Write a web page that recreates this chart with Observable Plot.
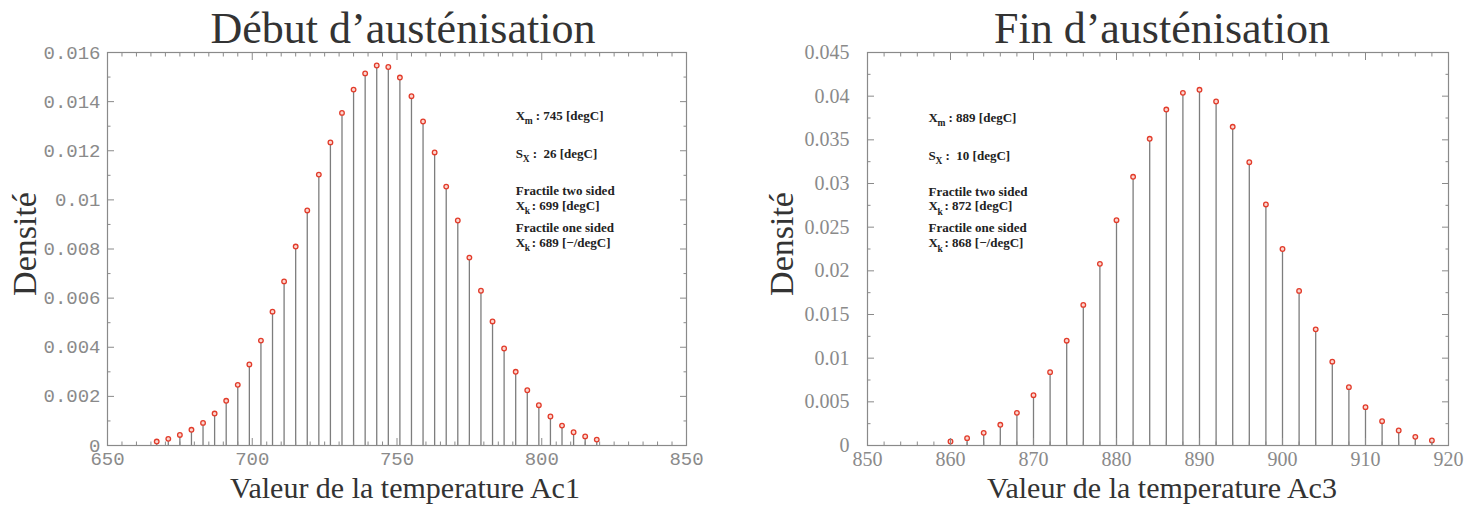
<!DOCTYPE html>
<html>
<head>
<meta charset="utf-8">
<script src="https://cdn.jsdelivr.net/npm/d3@7"></script>
<script src="https://cdn.jsdelivr.net/npm/@observablehq/plot@0.6"></script>
<style>
  html, body { margin: 0; padding: 0; background: #fff; }
  #wrap { display: flex; width: 1476px; height: 506px; overflow: hidden; }
</style>
</head>
<body>
<div id="wrap"></div>
<script>
// ---- Data ----
const ac1Temp = [667,671,675,679,683,687,691,695,699,703,707,711,715,719,723,727,731,735,739,743,747,751,755,759,763,767,771,775,779,783,787,791,795,799,803,807,811,815,819];
const ac1Density = [0.00016,0.00027,0.00043,0.00064,0.00092,0.0013,0.00182,0.00247,0.0033,0.00427,0.00545,0.00668,0.0081,0.00957,0.01103,0.01234,0.01354,0.01449,0.01515,0.01547,0.01541,0.01498,0.01422,0.01319,0.01193,0.01054,0.00916,0.00765,0.0063,0.00505,0.00395,0.003,0.00225,0.00164,0.00118,0.00081,0.00054,0.00037,0.00024];

const ac3Temp = [860,862,864,866,868,870,872,874,876,878,880,882,884,886,888,890,892,894,896,898,900,902,904,906,908,910,912,914,916,918];
const ac3Density = [0.00046,0.00084,0.00145,0.00237,0.00374,0.00576,0.0084,0.012,0.0161,0.0208,0.0258,0.03077,0.03512,0.03847,0.04038,0.04073,0.03939,0.03649,0.03244,0.0276,0.0225,0.0177,0.0133,0.0096,0.00668,0.00439,0.00278,0.00172,0.00099,0.00057];

// ---- Tick values ----
const ac1XTicks = [650,700,750,800,850];
const ac1XMinor = [655,660,665,670,675,680,685,690,695,705,710,715,720,725,730,735,740,745,755,760,765,770,775,780,785,790,795,805,810,815,820,825,830,835,840,845];
const ac1YTicks = [0,0.002,0.004,0.006,0.008,0.01,0.012,0.014,0.016];
const ac1YMinor = [0.001,0.003,0.005,0.007,0.009,0.011,0.013,0.015];

const ac3XTicks = [850,860,870,880,890,900,910,920];
const ac3XMinor = [852,854,856,858,862,864,866,868,872,874,876,878,882,884,886,888,892,894,896,898,902,904,906,908,912,914,916,918];
const ac3YTicks = [0,0.005,0.01,0.015,0.02,0.025,0.03,0.035,0.04,0.045];
const ac3YMinor = [0.0025,0.0075,0.0125,0.0175,0.0225,0.0275,0.0325,0.0375,0.0425];

// ---- Texts ----
const titles = ["Début d’austénisation", "Fin d’austénisation"];
const xLabels = ["Valeur de la temperature Ac1", "Valeur de la temperature Ac3"];
const yLabel = "Densité";

const ac1Notes = [
  {sym: "X", sub: "m", rest: ": 745 [degC]"},
  {sym: "S", sub: "X", rest: ":  26 [degC]"},
  {line: "Fractile two sided"},
  {sym: "X", sub: "k", rest: ": 699 [degC]"},
  {line: "Fractile one sided"},
  {sym: "X", sub: "k", rest: ": 689 [−/degC]"}
];
const ac3Notes = [
  {sym: "X", sub: "m", rest: ": 889 [degC]"},
  {sym: "S", sub: "X", rest: ":  10 [degC]"},
  {line: "Fractile two sided"},
  {sym: "X", sub: "k", rest: ": 872 [degC]"},
  {line: "Fractile one sided"},
  {sym: "X", sub: "k", rest: ": 868 [−/degC]"}
];

const AXIS = "#8a8a8a";
const SERIF = "Liberation Serif, Times New Roman, serif";

function panel(cfg) {
  const data = cfg.temps.map((t, i) => ({t, d: cfg.dens[i]}));
  const notes = cfg.notes.map((n, i) => ({...n, x: cfg.noteX, y: cfg.noteY[i]}));
  const subDx = {m: 9, X: 7, k: 9};
  const restDx = {m: 20, X: 17, k: 16};
  const noteStyle = {textAnchor: "start", lineAnchor: "middle", fontWeight: "bold", fontSize: 13, fontFamily: SERIF, fill: "#222"};
  const noteMarks = [];
  noteMarks.push(Plot.text(notes.filter(n => n.line), {...noteStyle, x: "x", y: "y", text: "line"}));
  noteMarks.push(Plot.text(notes.filter(n => n.sym), {...noteStyle, x: "x", y: "y", text: "sym"}));
  for (const s of ["m", "X", "k"]) {
    const rows = notes.filter(n => n.sub === s);
    noteMarks.push(Plot.text(rows, {...noteStyle, x: "x", y: "y", text: "sub", fontSize: 9.5, dx: subDx[s], dy: 5.5}));
    noteMarks.push(Plot.text(rows, {...noteStyle, x: "x", y: "y", text: "rest", dx: restDx[s]}));
  }
  const tickText = {fontFamily: cfg.tickFont, fontSize: cfg.tickFontSize, fill: AXIS, stroke: AXIS, label: null};
  const noText = {stroke: AXIS, fill: "none", label: null};
  return Plot.plot({
    width: 738,
    height: 506,
    marginTop: 52,
    marginBottom: 61,
    marginLeft: cfg.marginLeft,
    marginRight: cfg.marginRight,
    style: {background: "#fff", fontFamily: SERIF},
    x: {type: "linear", domain: cfg.xDomain},
    y: {type: "linear", domain: cfg.yDomain},
    marks: [
      Plot.ruleX(data, {x: "t", y1: 0, y2: "d", stroke: "#7d7d7d", strokeWidth: 1.3}),
      Plot.dot(data, {x: "t", y: "d", r: 2.3, stroke: "#e23b2a", strokeWidth: 1.3, fill: "#fbd6cf"}),
      Plot.frame({stroke: AXIS, strokeWidth: 1.2}),
      Plot.axisX(cfg.xMajor, {...tickText, anchor: "bottom", tickSize: -7, tickPadding: 7 + cfg.xPad, tickFormat: d => String(d)}),
      Plot.axisX(cfg.xMinor, {...noText, anchor: "bottom", tickSize: -3.5}),
      Plot.axisX(cfg.xMajor, {...noText, anchor: "top", tickSize: -7}),
      Plot.axisX(cfg.xMinor, {...noText, anchor: "top", tickSize: -3.5}),
      Plot.axisY(cfg.yMajor, {...tickText, anchor: "left", tickSize: -7, tickPadding: 7 + cfg.yPad, tickFormat: d => String(d)}),
      Plot.axisY(cfg.yMinor, {...noText, anchor: "left", tickSize: -3.5}),
      Plot.axisY(cfg.yMajor, {...noText, anchor: "right", tickSize: -7}),
      Plot.axisY(cfg.yMinor, {...noText, anchor: "right", tickSize: -3.5}),
      Plot.text([cfg.title], {text: d => d, frameAnchor: "top", dy: -24, dx: cfg.titleDx, lineAnchor: "middle", fontSize: 44, fontFamily: SERIF, fill: "#333"}),
      Plot.text([cfg.xLabel], {text: d => d, frameAnchor: "bottom", dy: 43, dx: cfg.xLabelDx, lineAnchor: "middle", fontSize: 30, fontFamily: SERIF, fill: "#333"}),
      Plot.text([yLabel], {text: d => d, frameAnchor: "left", textAnchor: "middle", dx: cfg.yLabelDx, dy: -5, rotate: -90, lineAnchor: "middle", fontSize: 34, fontFamily: SERIF, fill: "#333"}),
      ...noteMarks
    ]
  });
}

const wrap = document.getElementById("wrap");
wrap.appendChild(panel({
  temps: ac1Temp, dens: ac1Density,
  xDomain: [650, 850], yDomain: [0, 0.016],
  xMajor: ac1XTicks, xMinor: ac1XMinor, yMajor: ac1YTicks, yMinor: ac1YMinor,
  tickFont: "Liberation Mono, Courier New, monospace", tickFontSize: 19, xPad: 6, yPad: 7,
  marginLeft: 107, marginRight: 52,
  title: titles[0], xLabel: xLabels[0], titleDx: 6, xLabelDx: 8, yLabelDx: -82,
  notes: ac1Notes, noteX: 791, noteY: [0.01343, 0.01189, 0.01036, 0.00977, 0.00887, 0.00826]
}));
wrap.appendChild(panel({
  temps: ac3Temp, dens: ac3Density,
  xDomain: [850, 920], yDomain: [0, 0.045],
  xMajor: ac3XTicks, xMinor: ac3XMinor, yMajor: ac3YTicks, yMinor: ac3YMinor,
  tickFont: SERIF, tickFontSize: 20, xPad: 6, yPad: 18,
  marginLeft: 129, marginRight: 28,
  title: titles[1], xLabel: xLabels[1], titleDx: 4, xLabelDx: 4, yLabelDx: -85,
  notes: ac3Notes, noteX: 857.35, noteY: [0.03756, 0.03321, 0.02908, 0.02742, 0.02490, 0.02318]
}));
</script>
</body>
</html>
